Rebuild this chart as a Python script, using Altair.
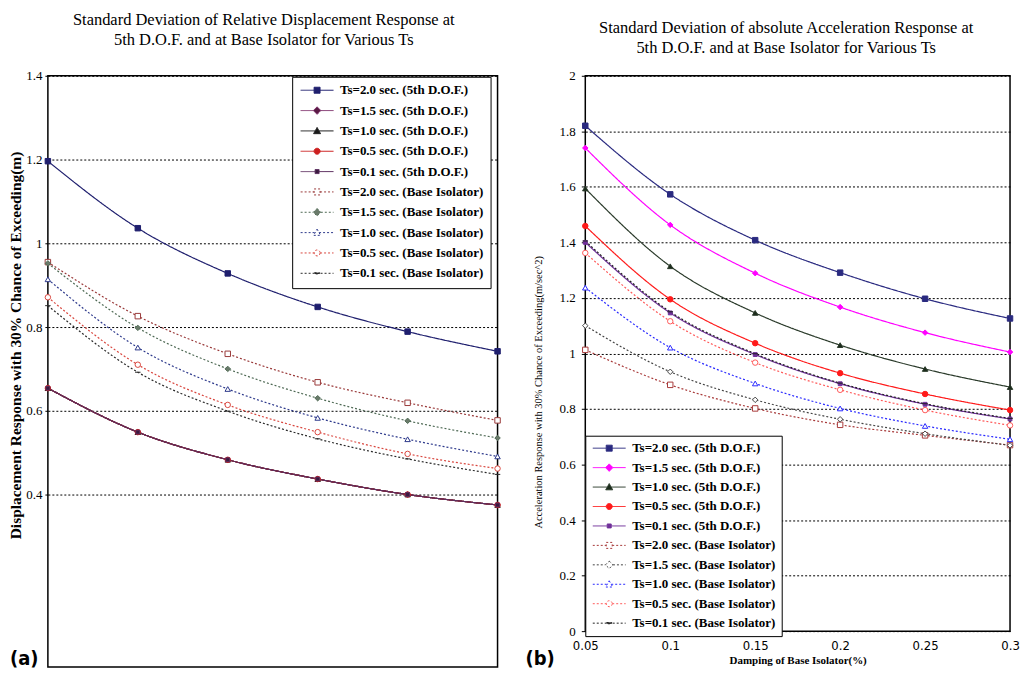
import altair as alt
import pandas as pd

# ---------------- data ----------------
damping = [0.05, 0.10, 0.15, 0.20, 0.25, 0.30]

series_names = [
    "Ts=2.0 sec. (5th D.O.F.)",
    "Ts=1.5 sec. (5th D.O.F.)",
    "Ts=1.0 sec. (5th D.O.F.)",
    "Ts=0.5 sec. (5th D.O.F.)",
    "Ts=0.1 sec. (5th D.O.F.)",
    "Ts=2.0 sec. (Base Isolator)",
    "Ts=1.5 sec. (Base Isolator)",
    "Ts=1.0 sec. (Base Isolator)",
    "Ts=0.5 sec. (Base Isolator)",
    "Ts=0.1 sec. (Base Isolator)",
]

# (a) displacement response (m)
disp_ts20_dof = [1.196, 1.036, 0.928, 0.848, 0.789, 0.742]
disp_ts15_dof = [0.654, 0.549, 0.483, 0.437, 0.400, 0.375]
disp_ts10_dof = [0.654, 0.549, 0.483, 0.437, 0.400, 0.375]
disp_ts05_dof = [0.654, 0.549, 0.483, 0.437, 0.400, 0.375]
disp_ts01_dof = [0.654, 0.549, 0.483, 0.437, 0.400, 0.375]
disp_ts20_iso = [0.955, 0.826, 0.736, 0.668, 0.619, 0.577]
disp_ts15_iso = [0.952, 0.798, 0.700, 0.630, 0.576, 0.535]
disp_ts10_iso = [0.914, 0.751, 0.652, 0.583, 0.532, 0.491]
disp_ts05_iso = [0.871, 0.710, 0.614, 0.549, 0.497, 0.462]
disp_ts01_iso = [0.851, 0.692, 0.599, 0.533, 0.485, 0.448]

# (b) absolute acceleration response (m/sec^2)
acc_ts20_dof = [1.820, 1.573, 1.408, 1.291, 1.197, 1.126]
acc_ts15_dof = [1.740, 1.463, 1.289, 1.167, 1.075, 1.005]
acc_ts10_dof = [1.594, 1.314, 1.146, 1.030, 0.944, 0.879]
acc_ts05_dof = [1.459, 1.195, 1.037, 0.929, 0.854, 0.796]
acc_ts01_dof = [1.400, 1.146, 0.996, 0.891, 0.817, 0.764]
acc_ts20_iso = [1.013, 0.887, 0.802, 0.743, 0.705, 0.670]
acc_ts15_iso = [1.100, 0.934, 0.833, 0.763, 0.711, 0.669]
acc_ts10_iso = [1.237, 1.021, 0.892, 0.802, 0.739, 0.691]
acc_ts05_iso = [1.362, 1.116, 0.967, 0.869, 0.796, 0.741]
acc_ts01_iso = [1.405, 1.150, 0.999, 0.893, 0.819, 0.766]

disp_ticks = [0.4, 0.6, 0.8, 1.0, 1.2, 1.4]
acc_ticks = [0.0, 0.2, 0.4, 0.6, 0.8, 1.0, 1.2, 1.4, 1.6, 1.8, 2.0]

panel_tags = ["(a)", "(b)"]
title_left = ["Standard Deviation of Relative Displacement Response at",
              "5th D.O.F. and at Base Isolator for Various Ts"]
title_right = ["Standard Deviation of absolute Acceleration Response at",
               "5th D.O.F. and at Base Isolator for Various Ts"]
ytitle_left = "Displacement Response with 30% Chance of Exceeding(m)"
ytitle_right = "Acceleration Response with 30% Chance of Exceeding(m/sec^2)"
xtitle_right = "Damping of Base Isolator(%)"

# ---------------- styles ----------------
colors_left = ["#1f1f6e", "#7b2d68", "#1a1a1a", "#cc1f1f", "#5b2d5e",
               "#9a3a3a", "#4f6a55", "#2e3a8c", "#d9473f", "#2a2a2a"]
fills_left = ["#1f1f6e", "#5a1a45", "#1a1a1a", "#cc1f1f", "#3a1a3e",
              "white", "#6a7a6a", "white", "white", "#2a2a2a"]
colors_right = ["#2a2a80", "#ff00ff", "#2a3a2a", "#ff1a1a", "#70309a",
                "#a83a3a", "#444444", "#2a2aff", "#ff5a5a", "#222222"]
fills_right = ["#2a2a80", "#ff00ff", "#1a2a1a", "#ff1a1a", "#70309a",
               "white", "white", "white", "white", "#222222"]
dashes = [[1, 0]] * 5 + [[2, 2]] * 5

plot_shapes = ["square", "diamond", "triangle-up", "circle", "M-0.7,-0.7H0.7V0.7H-0.7Z",
               "square", "diamond", "triangle-up", "circle", "M-1,0H1"]
lg_sq = "M-1,0H1.7M2.9,0H5.6M1.7,-0.6H2.9V0.6H1.7Z"
lg_di = "M-1,0H1.55M3.05,0H5.6M2.3,-0.75L3.05,0L2.3,0.75L1.55,0Z"
lg_tr = "M-1,0H1.9M2.7,0H5.6M2.3,-0.7L3,0.55H1.6Z"
lg_ci = "M-1,0H1.7M2.9,0H5.6M2.9,0A0.6,0.6,0,1,1,1.7,0A0.6,0.6,0,1,1,2.9,0Z"
lg_ss = "M-1,0H1.9M2.7,0H5.6M1.9,-0.4H2.7V0.4H1.9Z"
lg_da = "M-1,0H5.6M1.8,-0.12H2.8V0.12H1.8Z"
legend_shapes = [lg_sq, lg_di, lg_tr, lg_ci, lg_ss, lg_sq, lg_di, lg_tr, lg_ci, lg_da]

SERIF = "Liberation Serif"
NARROW = "Liberation Sans Narrow, DejaVu Sans Condensed, Liberation Sans, sans-serif"


def long_table(series_values):
    rows = []
    for name, vals in zip(series_names, series_values):
        for d, v in zip(damping, vals):
            rows.append({"series": name, "damping": d, "value": v})
    return pd.DataFrame(rows)


df_disp = long_table([disp_ts20_dof, disp_ts15_dof, disp_ts10_dof, disp_ts05_dof, disp_ts01_dof,
                      disp_ts20_iso, disp_ts15_iso, disp_ts10_iso, disp_ts05_iso, disp_ts01_iso])
df_acc = long_table([acc_ts20_dof, acc_ts15_dof, acc_ts10_dof, acc_ts05_dof, acc_ts01_dof,
                     acc_ts20_iso, acc_ts15_iso, acc_ts10_iso, acc_ts05_iso, acc_ts01_iso])


def panel(df, colors, fills, ydomain, yticks, yaxis_kw, xaxis, width, height,
          legend_xy, row_pad, legend_pad, title, title_dx, title_offset, tag, tag_xy):
    sc_color = alt.Scale(domain=series_names, range=colors)
    sc_fill = alt.Scale(domain=series_names, range=fills)
    sc_dash = alt.Scale(domain=series_names, range=dashes)
    sc_shape_pt = alt.Scale(domain=series_names, range=plot_shapes)
    sc_shape_lg = alt.Scale(domain=series_names, range=legend_shapes)

    x = alt.X("damping:Q", scale=alt.Scale(domain=[0.05, 0.3], nice=False, zero=False), axis=xaxis)
    y = alt.Y("value:Q", scale=alt.Scale(domain=ydomain, nice=False, zero=False),
              axis=alt.Axis(values=yticks, format="~g", grid=True, gridDash=[2, 2],
                            gridColor="black", gridOpacity=1, gridWidth=1, domain=False,
                            tickColor="black", labelFont=SERIF, labelFontSize=13,
                            labelColor="black", labelFlush=False, titleFont=SERIF,
                            titleColor="black", titleAngle=-90, titleBaseline="middle",
                            **yaxis_kw))
    base = alt.Chart(df)
    lines = base.mark_line(interpolate="monotone", strokeWidth=1.2).encode(
        x=x, y=y,
        color=alt.Color("series:N", scale=sc_color, legend=None),
        strokeDash=alt.StrokeDash("series:N", scale=sc_dash, legend=None),
    )
    pts = base.mark_point(filled=False, opacity=1, size=30, strokeWidth=1).encode(
        x=x, y=y,
        color=alt.Color("series:N", scale=sc_color, legend=None),
        fill=alt.Fill("series:N", scale=sc_fill, legend=None),
        shape=alt.Shape("series:N", scale=sc_shape_pt, legend=None),
    )
    leg = alt.Legend(orient="none", legendX=legend_xy[0], legendY=legend_xy[1], title=None,
                     direction="vertical", padding=legend_pad, rowPadding=row_pad, symbolSize=100,
                     symbolStrokeWidth=1, labelFont=SERIF, labelFontSize=13,
                     labelFontWeight="bold", labelColor="black", labelOffset=28,
                     labelLimit=400, strokeColor="black", fillColor="white")
    legend_layer = base.transform_filter("false").mark_point(filled=False, opacity=1, strokeWidth=1).encode(
        x=x, y=y,
        color=alt.Color("series:N", scale=sc_color, legend=leg),
        fill=alt.Fill("series:N", scale=sc_fill, legend=leg),
        shape=alt.Shape("series:N", scale=sc_shape_lg, legend=leg),
        strokeDash=alt.StrokeDash("series:N", scale=sc_dash, legend=leg),
    )
    tag_layer = alt.Chart(pd.DataFrame({"tag": [tag]})).mark_text(
        align="left", baseline="middle", font=NARROW, fontSize=20, fontWeight="bold", color="black"
    ).encode(x=alt.value(tag_xy[0]), y=alt.value(tag_xy[1]), text="tag:N")

    return alt.layer(lines, pts, legend_layer, tag_layer).resolve_scale(
        color="independent", fill="independent", shape="independent", strokeDash="independent"
    ).properties(
        width=width, height=height,
        title=alt.TitleParams(text=title, font=SERIF, fontSize=16.5, fontWeight="normal",
                              color="black", lineHeight=20, offset=title_offset, dx=title_dx,
                              anchor="middle"),
    )


left = panel(
    df_disp, colors_left, fills_left, [-0.012, 1.4], disp_ticks,
    dict(tickSize=3, labelPadding=3, title=ytitle_left, titleFontWeight="bold",
         titleFontSize=15.5, titleX=-32, titleY=270),
    None, 451, 593, (245, 1), 6.4, 7, title_left, -9, 21.5, panel_tags[0], (-38, 585),
)

right = panel(
    df_acc, colors_right, fills_right, [0, 2], acc_ticks,
    dict(tickSize=4, labelPadding=6, title=ytitle_right, titleFontWeight="normal",
         titleFontSize=10.5, titleX=-47, titleY=317),
    alt.Axis(values=damping, format="~g", grid=False, domain=False, ticks=False,
             labelPadding=8, labelFont=NARROW, labelFontSize=13, labelColor="black",
             labelFlush=False, title=xtitle_right, titleFont=SERIF, titleFontWeight="bold",
             titleFontSize=11, titleColor="black", titlePadding=2),
    426, 557, (0, 361), 5.5, 6, title_right, -11.5, 13.5, panel_tags[1], (-60, 585),
)

chart = alt.hconcat(left, right, spacing=88, bounds="flush").configure_view(
    stroke="black", strokeWidth=1.5
).properties(padding={"left": 0, "top": 2, "right": 0, "bottom": 0})

chart.save("out.html", embed_options={"renderer": "svg", "actions": False})
